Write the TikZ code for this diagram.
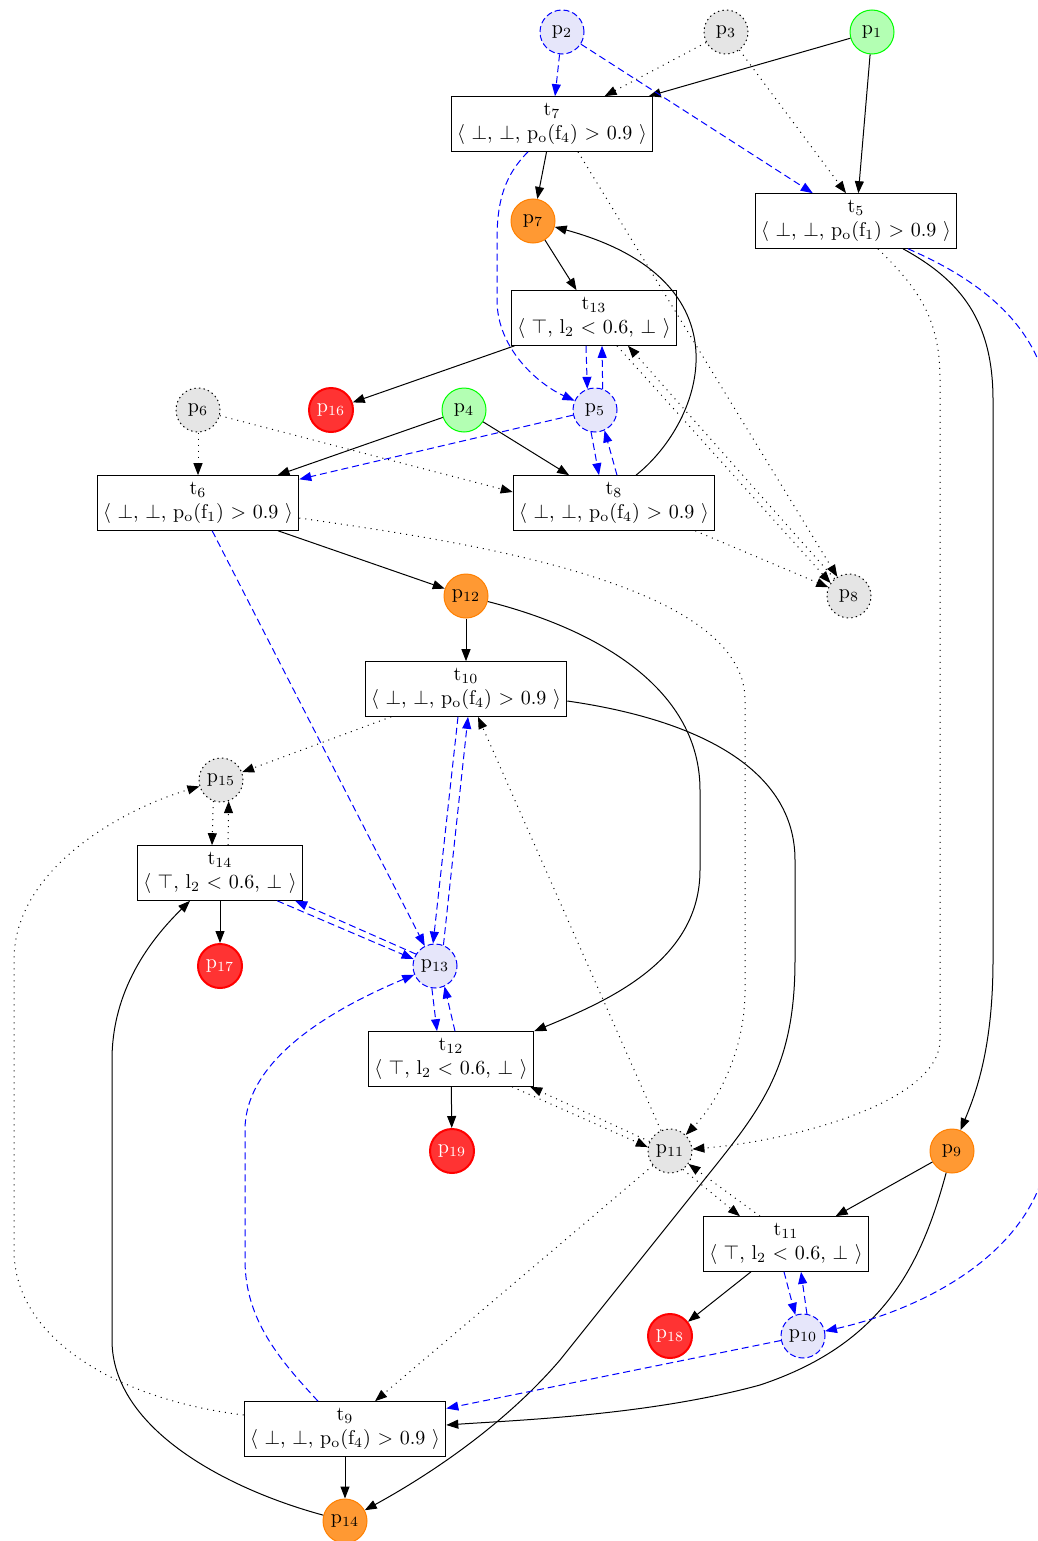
\documentclass[tikz,border=0pt]{standalone}
\usepackage{amsmath, amssymb}
\usetikzlibrary{arrows.meta}
\definecolor{lavfill}{HTML}{E6E6FA}
\definecolor{orangefill}{HTML}{FF9933}
\definecolor{redfill}{HTML}{FF3333}
\definecolor{greenfill}{HTML}{B3FFB3}

\tikzset{
  place/.style={circle, minimum size=22pt, inner sep=0pt, line width=0.5pt},
  pgreen/.style={place, draw=green, fill=greenfill},
  pgray/.style={place, draw=black, dash pattern=on 0.7pt off 1.6pt, fill=black!10},
  plav/.style={place, draw=blue, dash pattern=on 3pt off 1.5pt, fill=lavfill},
  porange/.style={place, draw=orange, fill=orangefill},
  pred/.style={place, draw=red, line width=1pt, fill=redfill, text=white},
  trans/.style={draw, rectangle, align=center, minimum height=27pt, inner xsep=3pt, line width=0.5pt},
  arc/.style={-{Triangle[length=6pt,width=4.5pt]}, line width=0.5pt},
  blarc/.style={arc, blue, dash pattern=on 3.5pt off 2pt},
  dotarc/.style={arc, dash pattern=on 0.5pt off 2.5pt},
}

\begin{document}
\begin{tikzpicture}[x=0.5pt, y=-0.5pt]
            \useasboundingbox (0,0) rectangle (1038,1541);

            % Lugares
            \node[plav] (p2) at (562,32) {p\textsubscript{2}};
            \node[pgray] (p3) at (726,32) {p\textsubscript{3}};
            \node[pgreen] (p1) at (872,32) {p\textsubscript{1}};
            \node[porange] (p7) at (533,221) {p\textsubscript{7}};
            \node[pgray] (p6) at (198,410) {p\textsubscript{6}};
            \node[pred] (p16) at (331,410) {p\textsubscript{16}};
            \node[pgreen] (p4) at (464,410) {p\textsubscript{4}};
            \node[plav] (p5) at (595,410) {p\textsubscript{5}};
            \node[pgray] (p8) at (849,596) {p\textsubscript{8}};
            \node[porange] (p12) at (466,596) {p\textsubscript{12}};
            \node[pgray] (p15) at (221,780) {p\textsubscript{15}};
            \node[pred] (p17) at (220,966) {p\textsubscript{17}};
            \node[plav] (p13) at (435,966) {p\textsubscript{13}};
            \node[pred] (p19) at (452,1151) {p\textsubscript{19}};
            \node[pgray] (p11) at (670,1151) {p\textsubscript{11}};
            \node[porange] (p9) at (952,1151) {p\textsubscript{9}};
            \node[pred] (p18) at (670,1336) {p\textsubscript{18}};
            \node[plav] (p10) at (803,1336) {p\textsubscript{10}};
            \node[porange] (p14) at (345,1521) {p\textsubscript{14}};

            % Transiciones
            \node[trans] (t7) at (552,124) {t\textsubscript{7}\\$\langle$ $\bot$, $\bot$, p\textsubscript{o}(f\textsubscript{4}) $>$ 0.9 $\rangle$};
            \node[trans] (t5) at (856,221) {t\textsubscript{5}\\$\langle$ $\bot$, $\bot$, p\textsubscript{o}(f\textsubscript{1}) $>$ 0.9 $\rangle$};
            \node[trans] (t13) at (594,318) {t\textsubscript{13}\\$\langle$ $\top$, l\textsubscript{2} $<$ 0.6, $\bot$ $\rangle$};
            \node[trans] (t6) at (198,503) {t\textsubscript{6}\\$\langle$ $\bot$, $\bot$, p\textsubscript{o}(f\textsubscript{1}) $>$ 0.9 $\rangle$};
            \node[trans] (t8) at (614,503) {t\textsubscript{8}\\$\langle$ $\bot$, $\bot$, p\textsubscript{o}(f\textsubscript{4}) $>$ 0.9 $\rangle$};
            \node[trans] (t10) at (466,689) {t\textsubscript{10}\\$\langle$ $\bot$, $\bot$, p\textsubscript{o}(f\textsubscript{4}) $>$ 0.9 $\rangle$};
            \node[trans] (t14) at (220,873) {t\textsubscript{14}\\$\langle$ $\top$, l\textsubscript{2} $<$ 0.6, $\bot$ $\rangle$};
            \node[trans] (t12) at (451,1059) {t\textsubscript{12}\\$\langle$ $\top$, l\textsubscript{2} $<$ 0.6, $\bot$ $\rangle$};
            \node[trans] (t11) at (786,1244) {t\textsubscript{11}\\$\langle$ $\top$, l\textsubscript{2} $<$ 0.6, $\bot$ $\rangle$};
            \node[trans] (t9) at (345,1429) {t\textsubscript{9}\\$\langle$ $\bot$, $\bot$, p\textsubscript{o}(f\textsubscript{4}) $>$ 0.9 $\rangle$};

            % Arcos normales
            \draw[arc] (p1) -- (t7);
            \draw[arc] (p1) -- (t5);
            \draw[arc] (t7) -- (p7);
            \draw[arc] (p7) -- (t13);
            \draw[arc] ([xshift=23.5pt]t5.south) .. controls (960,280) and (993,320) .. (993,400) -- (993,960) .. controls (993,1050) and (975,1095) .. (p9);
            \draw[arc] (t13) -- (p16);
            \draw[arc] ([xshift=11pt]t8.north) .. controls (705,420) and (750,280) .. (p7);
            \draw[arc] (p4) -- (t6);
            \draw[arc] (p4) -- (t8);
            \draw[arc] (t6) -- (p12);
            \draw[arc] (p12) -- (t10);
            \draw[arc] (p12) .. controls (600,630) and (700,690) .. (700,790) -- (700,870) .. controls (700,960) and (610,1000) .. (t12.north east);
            \draw[arc] ([yshift=-6pt]t10.east) .. controls (700,720) and (795,770) .. (795,860) -- (795,960) .. controls (795,1070) and (760,1110) .. (700,1185) -- (560,1360) .. controls (500,1430) and (420,1480) .. (p14);
            \draw[arc] (t14) -- (p17);
            \draw[arc] (p14) .. controls (230,1490) and (112,1430) .. (112,1340) -- (112,1060) .. controls (112,990) and (150,940) .. ([xshift=-15pt]t14.south);
            \draw[arc] (t12) -- (p19);
            \draw[arc] (p9) -- (t11);
            \draw[arc] (p9) .. controls (920,1270) and (880,1345) .. (760,1385) .. controls (650,1415) and (520,1420) .. ([yshift=2pt]t9.east);
            \draw[arc] (t11) -- (p18);
            \draw[arc] (t9) -- (p14);

            % Arcos de lectura (azules)
            \draw[blarc] (p2) -- (t7);
            \draw[blarc] (p2) -- (t5);
            \draw[blarc] ([xshift=-12pt]t7.south) .. controls (505,175) and (497,200) .. (497,240) -- (497,300) .. controls (497,350) and (540,385) .. (p5);
            \draw[blarc] ([xshift=-4pt]t13.south) -- (p5.110);
            \draw[blarc] (p5.70) -- ([xshift=4pt]t13.south);
            \draw[blarc] (p5.-100) -- ([xshift=-7.5pt]t8.north);
            \draw[blarc] ([xshift=1.5pt]t8.north) -- (p5.-65);
            \draw[blarc] (p5) -- (t6);
            \draw[blarc] (t6) -- (p13);
            \draw[blarc] ([xshift=26pt]t5.south) .. controls (980,280) and (1050,330) .. (1050,420) -- (1050,1130) .. controls (1050,1250) and (920,1310) .. (p10);
            \draw[blarc] ([xshift=-4pt]t10.south) -- (p13.95);
            \draw[blarc] (p13.68) -- ([xshift=1pt]t10.south);
            \draw[blarc] ([xshift=-13pt]t14.south east) -- (p13.162);
            \draw[blarc] (p13.148) -- ([xshift=-4pt]t14.south east);
            \draw[blarc] (p13.-98) -- ([xshift=-7pt]t12.north);
            \draw[blarc] ([xshift=2pt]t12.north) -- (p13.-65);
            \draw[blarc] ([xshift=-13.5pt]t9.north) .. controls (280,1360) and (245,1320) .. (245,1260) -- (245,1130) .. controls (245,1060) and (330,1010) .. (p13);
            \draw[blarc] (p10) -- (t9);
            \draw[blarc] ([xshift=-1pt]t11.south) -- (p10.110);
            \draw[blarc] (p10.80) -- ([xshift=7.5pt]t11.south);

            % Arcos punteados
            \draw[dotarc] (p3) -- (t7);
            \draw[dotarc] (p3) -- ([xshift=-5pt]t5.north);
            \draw[dotarc] ([xshift=13pt]t7.south) -- (p8);
            \draw[dotarc] ([xshift=11.5pt]t13.south) -- (p8.145);
            \draw[dotarc] (p8.130) -- ([xshift=17pt]t13.south);
            \draw[dotarc] ([xshift=-10pt]t8.south east) -- (p8);
            \draw[dotarc] (p6) -- (t6);
            \draw[dotarc] (p6) -- ([yshift=5.5pt]t8.west);
            \draw[dotarc] ([yshift=-7.5pt]t6.east) .. controls (450,540) and (745,580) .. (745,700) -- (745,990) .. controls (745,1060) and (710,1110) .. (p11);
            \draw[dotarc] ([xshift=11pt]t5.south) .. controls (920,290) and (940,320) .. (940,380) -- (940,1040) .. controls (940,1100) and (800,1140) .. (p11);
            \draw[dotarc] (t10) -- (p15);
            \draw[dotarc] (p15.-110) -- ([xshift=-4pt]t14.north);
            \draw[dotarc] ([xshift=4pt]t14.north) -- (p15.-70);
            \draw[dotarc] ([yshift=7pt]t9.west) .. controls (120,1400) and (14,1340) .. (14,1250) -- (14,960) .. controls (14,870) and (120,810) .. (p15);
            \draw[dotarc] (p11) -- ([xshift=6pt]t10.south);
            \draw[dotarc] ([xshift=-11pt]t12.south east) -- (p11.170);
            \draw[dotarc] (p11.155) -- ([xshift=-2pt]t12.south east);
            \draw[dotarc] (p11.-55) -- ([xshift=-23pt]t11.north);
            \draw[dotarc] ([xshift=-13pt]t11.north) -- (p11.-35);
            \draw[dotarc] (p11) -- ([xshift=15pt]t9.north);
\end{tikzpicture}
\end{document}
